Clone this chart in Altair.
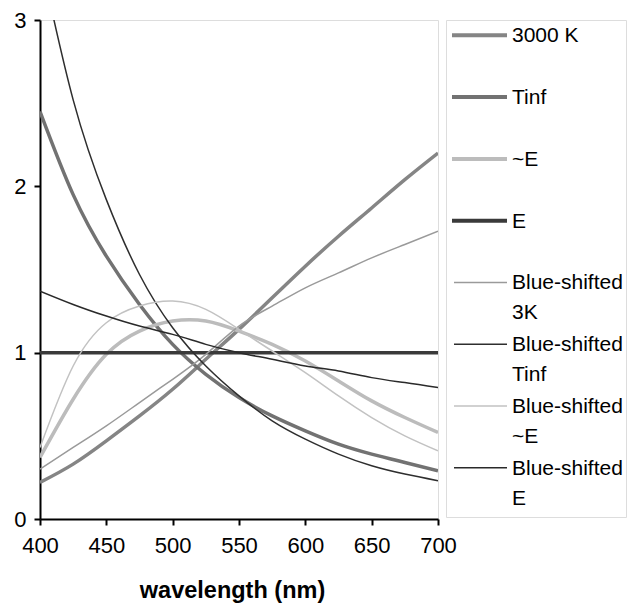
import altair as alt
import pandas as pd

wavelengths = [400, 425, 450, 475, 500, 525, 550, 575, 600, 625, 650, 675, 700]
k3000 = [0.22, 0.33, 0.47, 0.62, 0.78, 0.96, 1.14, 1.33, 1.52, 1.70, 1.87, 2.04, 2.20]
tinf = [2.45, 1.95, 1.58, 1.29, 1.05, 0.87, 0.73, 0.62, 0.53, 0.45, 0.39, 0.34, 0.29]
approx_e = [0.37, 0.72, 0.99, 1.13, 1.19, 1.19, 1.13, 1.05, 0.95, 0.83, 0.71, 0.61, 0.52]
e_flat = [1.0, 1.0, 1.0, 1.0, 1.0, 1.0, 1.0, 1.0, 1.0, 1.0, 1.0, 1.0, 1.0]
bs_3k = [0.30, 0.43, 0.56, 0.70, 0.84, 0.99, 1.16, 1.28, 1.39, 1.48, 1.57, 1.65, 1.73]
bs_tinf = [3.38, 2.52, 1.92, 1.47, 1.15, 0.92, 0.74, 0.59, 0.48, 0.39, 0.32, 0.27, 0.23]
bs_approx_e = [0.43, 0.92, 1.18, 1.28, 1.31, 1.26, 1.14, 1.01, 0.88, 0.74, 0.61, 0.50, 0.41]
bs_e = [1.37, 1.29, 1.22, 1.16, 1.11, 1.05, 1.00, 0.96, 0.92, 0.89, 0.85, 0.82, 0.79]

thick_names = ["3000 K", "Tinf", "~E", "E"]
thin_names = ["Blue-shifted 3K", "Blue-shifted Tinf", "Blue-shifted ~E", "Blue-shifted E"]
series_names = thick_names + thin_names
series_values = [k3000, tinf, approx_e, e_flat, bs_3k, bs_tinf, bs_approx_e, bs_e]
legend_line1 = ["3000 K", "Tinf", "~E", "E",
                "Blue-shifted", "Blue-shifted", "Blue-shifted", "Blue-shifted"]
legend_line2 = ["", "", "", "", "3K", "Tinf", "~E", "E"]

colors = ["#858585", "#727272", "#bcbcbc", "#3a3a3a",
          "#9a9a9a", "#2e2e2e", "#c2c2c2", "#2a2a2a"]

rows = []
for i, (name, vals) in enumerate(zip(series_names, series_values)):
    for w, v in zip(wavelengths, vals):
        rows.append({"series": name, "order": i, "wavelength": w, "value": v})
df = pd.DataFrame(rows)

leg = pd.DataFrame({
    "series": series_names,
    "idx": list(range(len(series_names))),
    "line1": legend_line1,
    "line2": legend_line2,
})

FONT = "Liberation Sans"
color_scale = alt.Scale(domain=series_names, range=colors)

xenc = alt.X("wavelength:Q",
             scale=alt.Scale(domain=[400, 700], nice=False, zero=False),
             axis=alt.Axis(values=[400, 450, 500, 550, 600, 650, 700],
                           title="wavelength (nm)", grid=False,
                           labelFontSize=22, labelFont=FONT, labelColor="#000",
                           titleFont=FONT, titleFontSize=23.5, titleFontWeight="bold",
                           titleColor="#000", titlePadding=22, titleX=192,
                           domainColor="#000", domainWidth=2,
                           tickColor="#000", tickWidth=2, tickSize=6,
                           labelPadding=10, labelFlush=False))
yenc = alt.Y("value:Q",
             scale=alt.Scale(domain=[0, 3], nice=False),
             axis=alt.Axis(values=[0, 1, 2, 3], title=None, grid=False,
                           labelFontSize=22, labelFont=FONT, labelColor="#000",
                           domainColor="#000", domainWidth=2,
                           tickColor="#000", tickWidth=2, tickSize=6,
                           labelPadding=8, labelFlush=False))

base = alt.Chart(df).encode(
    x=xenc, y=yenc,
    color=alt.Color("series:N", scale=color_scale, legend=None),
    order=alt.Order("order:Q"),
)
thick = base.mark_line(interpolate="natural", clip=True, strokeWidth=3.5).transform_filter(
    alt.FieldOneOfPredicate(field="series", oneOf=thick_names))
thin = base.mark_line(interpolate="natural", clip=True, strokeWidth=1.5).transform_filter(
    alt.FieldOneOfPredicate(field="series", oneOf=thin_names))

main = alt.layer(thick, thin).properties(width=398, height=499)

ypos = alt.Y("idx:Q", scale=alt.Scale(domain=[-0.248, 7.795], reverse=True, nice=False, zero=False), axis=None)

leg_base = alt.Chart(leg).encode(
    y=ypos,
    color=alt.Color("series:N", scale=color_scale, legend=None),
)
leg_thick = leg_base.mark_rule(strokeWidth=4).encode(x=alt.value(6), x2=alt.value(61)).transform_filter(
    alt.FieldOneOfPredicate(field="series", oneOf=thick_names))
leg_thin = leg_base.mark_rule(strokeWidth=1.5).encode(x=alt.value(8), x2=alt.value(61)).transform_filter(
    alt.FieldOneOfPredicate(field="series", oneOf=thin_names))
leg_text1 = alt.Chart(leg).mark_text(align="left", baseline="middle", font=FONT,
                                     fontSize=21, color="#000", dy=1).encode(
    x=alt.value(66), y=ypos, text="line1:N")
leg_text2 = alt.Chart(leg).mark_text(align="left", baseline="middle", font=FONT,
                                     fontSize=21, color="#000", dy=31).encode(
    x=alt.value(66), y=ypos, text="line2:N")

legend_panel = alt.layer(leg_thick, leg_thin, leg_text1, leg_text2).properties(width=180, height=497)

chart = alt.hconcat(main, legend_panel, spacing=8, bounds="flush").properties(
    padding={"left": 13, "top": 8, "right": 2, "bottom": 2}
).configure_view(
    stroke="#8a8a8a", strokeWidth=2
).configure(background="white")

chart.save("out.html", embed_options={"renderer": "svg", "actions": False})
